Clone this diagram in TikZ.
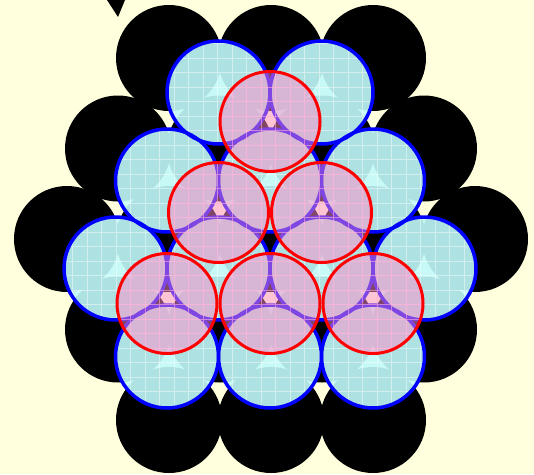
\documentclass[tikz,border=0pt]{standalone}
\usepackage{xcolor}
\usepackage{tikz}
\usetikzlibrary{positioning, calc}
\definecolor{bgyellow}{RGB}{255, 255, 221}
\definecolor{atomcyan}{RGB}{194, 250, 250}
\definecolor{atompink}{RGB}{255, 140, 200}
\definecolor{rimblue}{RGB}{0, 0, 255}
\definecolor{rimred}{RGB}{255, 0, 0}
\definecolor{gridpink}{RGB}{255, 175, 215}

\tikzset{
    layerA/.style={fill=black},
    layerB/.style={fill=atomcyan},
    layerC/.style={fill=atompink},
    rimB/.style={draw=rimblue, line width=3.5pt},
    rimC/.style={draw=rimred, line width=3pt},
    gridB/.style={draw=white, line width=0.9pt, opacity=0.45, step=14.5pt},
    gridC/.style={draw=gridpink, line width=0.9pt, opacity=0.6, step=14.5pt}
}

\begin{document}
\begin{tikzpicture}[x=1pt, y=-1pt]
    \fill[bgyellow] (0,0) rectangle (534,474);
    \useasboundingbox (0,0) rectangle (534,474);

    % centres of the three layers
    \foreach \k/\n in {0/3, 1/4, 2/5, 3/4, 4/3}
        \foreach \i in {1,...,\n}
            \coordinate (a-\k-\i) at ({271+(\i-(\n+1)/2)*102}, {58+90.5*\k});
    \foreach \k/\n in {0/2, 1/3, 2/4, 3/3}
        \foreach \i in {1,...,\n}
            \coordinate (b-\k-\i) at ({270+(\i-(\n+1)/2)*103}, {92.5+88*\k});
    \foreach \k/\n in {0/1, 1/2, 2/3}
        \foreach \i in {1,...,\n}
            \coordinate (c-\k-\i) at ({270+(\i-(\n+1)/2)*103}, {121.5+91*\k});

    % tip at the top
    \coordinate (tipL) at (107,0);
    \coordinate (tipR) at (125,0);
    \coordinate (tipB) at (118,17);
    \fill[black] (tipL) -- (tipR) -- (tipB) -- cycle;

    % bottom layer
    \foreach \k/\n in {0/3, 1/4, 2/5, 3/4, 4/3}
        \foreach \i in {1,...,\n}
            \path[layerA] (a-\k-\i) circle (53);

    % middle layer
    \begin{scope}[transparency group, opacity=0.9]
        \foreach \k/\n in {0/2, 1/3, 2/4, 3/3}
            \foreach \i in {1,...,\n}
                \path[layerB] (b-\k-\i) circle (51.5);
    \end{scope}
    \foreach \k/\n in {0/2, 1/3, 2/4, 3/3}
        \foreach \i in {1,...,\n} {
            \begin{scope}
                \clip (b-\k-\i) circle (51.5);
                \draw[gridB] ($(b-\k-\i)+(-56,-56)$) grid ($(b-\k-\i)+(56,56)$);
            \end{scope}
        }
    \foreach \k/\n in {0/2, 1/3, 2/4, 3/3}
        \foreach \i in {1,...,\n}
            \path[rimB] (b-\k-\i) circle (51.5);

    % top layer
    \begin{scope}[transparency group, opacity=0.5]
        \foreach \k/\n in {0/1, 1/2, 2/3}
            \foreach \i in {1,...,\n}
                \path[layerC] (c-\k-\i) circle (50);
    \end{scope}
    \foreach \k/\n in {0/1, 1/2, 2/3}
        \foreach \i in {1,...,\n} {
            \begin{scope}
                \clip (c-\k-\i) circle (50);
                \draw[gridC] ($(c-\k-\i)+(-56,-56)$) grid ($(c-\k-\i)+(56,56)$);
            \end{scope}
        }
    \foreach \k/\n in {0/1, 1/2, 2/3}
        \foreach \i in {1,...,\n}
            \path[rimC] (c-\k-\i) circle (50);
\end{tikzpicture}
\end{document}
